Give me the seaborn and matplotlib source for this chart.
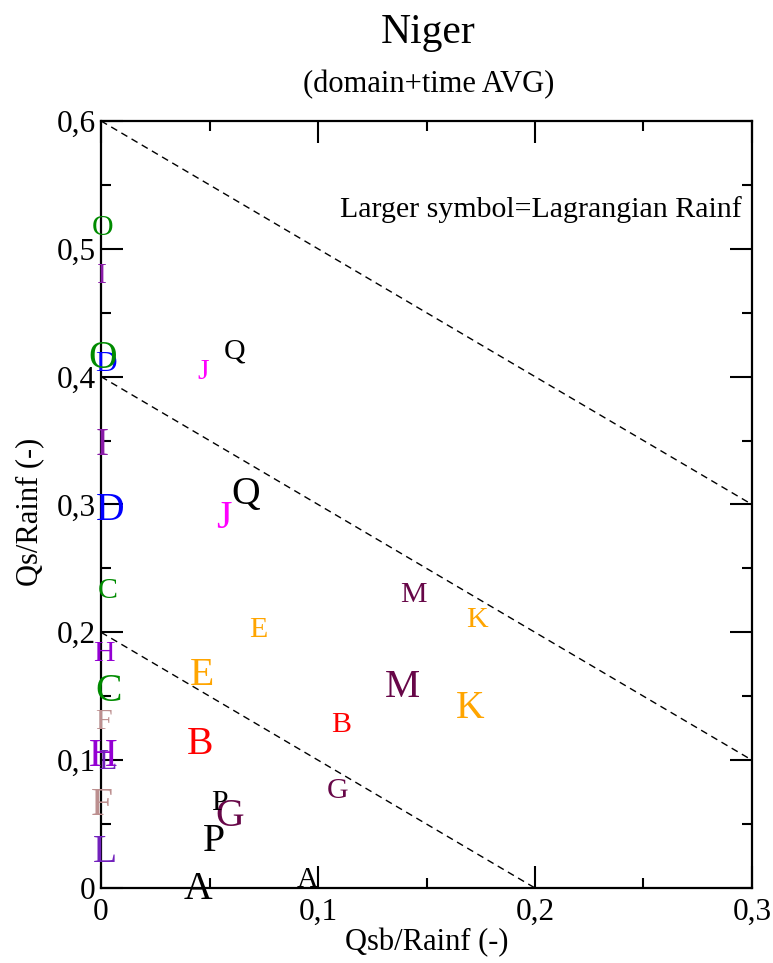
import pandas as pd
import numpy as np
import matplotlib
matplotlib.use('Agg')
import matplotlib.pyplot as plt
import seaborn as sns
from matplotlib.ticker import MultipleLocator, FuncFormatter

# datos
letras = ['A', 'B', 'C', 'D', 'E', 'F', 'G', 'H', 'I', 'J', 'K', 'L', 'M', 'O', 'P', 'Q']
colores = ['#000000', '#FF0000', '#008B00', '#0000FF', '#FFA500', '#BC8F8F', '#670748', '#9400D3',
           '#8A1BA8', '#FF00FF', '#FFA500', '#7221BC', '#670748', '#008B00', '#000000', '#000000']

# simbolo pequeno
x_peq = [0.0950, 0.1106, 0.0032, 0.0023, 0.0724, 0.0009, 0.1088, 0.0014,
         0.0004, 0.0470, 0.1733, 0.0028, 0.1438, 0.0009, 0.0544, 0.0615]
y_peq = [0.0086, 0.1300, 0.2346, 0.4120, 0.2040, 0.1320, 0.0782, 0.1853,
         0.4810, 0.4060, 0.2120, 0.1010, 0.2315, 0.5186, 0.0688, 0.4220]

# simbolo grande (lluvia lagrangiana)
x_gra = [0.0447, 0.0456, 0.0037, 0.0040, 0.0466, 0.0005, 0.0594, 0.0010,
         0.0005, 0.0567, 0.1700, 0.0018, 0.1388, 0.0008, 0.0520, 0.0668]
y_gra = [0.0023, 0.1157, 0.1570, 0.2987, 0.1697, 0.0680, 0.0594, 0.1064,
         0.3500, 0.2925, 0.1439, 0.0313, 0.1600, 0.4180, 0.0400, 0.3110]

# lineas x + y = constante
lineas = pd.DataFrame({
    'linea': [1, 1, 2, 2, 3, 3],
    'x': [0.0, 0.3, 0.0, 0.3, 0.0, 0.2],
    'y': [0.6, 0.3, 0.4, 0.1, 0.2, 0.0],
})

sns.set_style('ticks')
plt.rcParams['font.family'] = ['Liberation Serif', 'DejaVu Serif']
plt.rcParams['text.color'] = 'black'
plt.rcParams['axes.labelcolor'] = 'black'
plt.rcParams['xtick.color'] = 'black'
plt.rcParams['ytick.color'] = 'black'

fig = plt.figure(figsize=(7.73, 9.63), dpi=100)
ax = fig.add_axes([0.1307, 0.0779, 0.8421, 0.7965])

sns.lineplot(data=lineas, x='x', y='y', units='linea', estimator=None, color='black',
             linewidth=1.0, linestyle=(0, (5, 3.5)), ax=ax, zorder=1)

for i, letra in enumerate(letras):
    ax.text(x_peq[i], y_peq[i], letra, color=colores[i], fontsize=21.5,
            ha='center', va='center_baseline', zorder=3)
    ax.text(x_gra[i], y_gra[i], letra, color=colores[i], fontsize=28.5,
            ha='center', va='center_baseline', zorder=3)

ax.set_xlim(0, 0.3)
ax.set_ylim(0, 0.6)
ax.xaxis.set_major_locator(MultipleLocator(0.1))
ax.xaxis.set_minor_locator(MultipleLocator(0.05))
ax.yaxis.set_major_locator(MultipleLocator(0.1))
ax.yaxis.set_minor_locator(MultipleLocator(0.05))

coma = FuncFormatter(lambda v, p: '0' if abs(v) < 1e-9 else f'{v:.1f}'.replace('.', ','))
ax.xaxis.set_major_formatter(coma)
ax.yaxis.set_major_formatter(coma)

ax.tick_params(which='both', direction='in', top=True, right=True, width=1.5, colors='black')
ax.tick_params(which='major', length=16, labelsize=22.5)
ax.tick_params(which='minor', length=7)
ax.tick_params(axis='x', pad=7)
ax.tick_params(axis='y', pad=4)

for sp in ax.spines.values():
    sp.set_linewidth(1.6)
    sp.set_color('black')

ax.set_xlabel('Qsb/Rainf (-)', fontsize=22)
ax.set_ylabel('Qs/Rainf (-)', fontsize=22)
ax.xaxis.set_label_coords(0.5, -0.052)
ax.yaxis.set_label_coords(-0.088, 0.49)

ax.text(0.9846, 0.8752, 'Larger symbol=Lagrangian Rainf', transform=ax.transAxes,
        fontsize=21.5, ha='right', va='baseline')

fig.text(0.554, 0.9553, 'Niger', fontsize=30, ha='center', va='baseline')
fig.text(0.554, 0.9045, '(domain+time AVG)', fontsize=22, ha='center', va='baseline')

fig.savefig('out.png', dpi=100)
